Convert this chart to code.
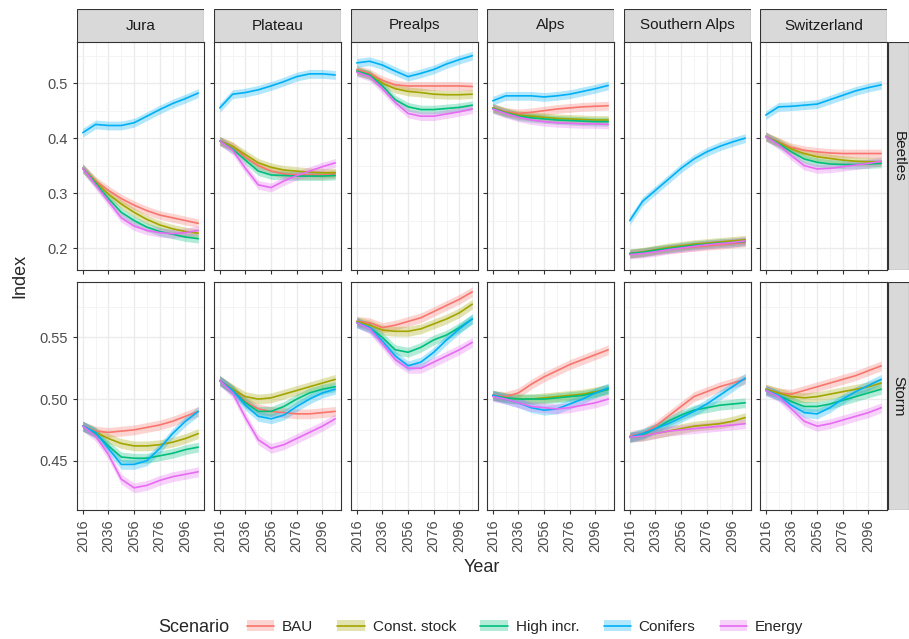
import numpy as np, pandas as pd, seaborn as sns, matplotlib
matplotlib.use("Agg")
import matplotlib.pyplot as plt
from matplotlib.patches import Patch, Rectangle
from matplotlib.lines import Line2D
from matplotlib.ticker import MultipleLocator

years = [2016, 2026, 2036, 2046, 2056, 2066, 2076, 2086, 2096, 2106]
regions = ["Jura", "Plateau", "Prealps", "Alps", "Southern Alps", "Switzerland"]
scenarios = ["BAU", "Const. stock", "High incr.", "Conifers", "Energy"]
indices = ["Beetles", "Storm"]
colors = ["#F8766D", "#A3A500", "#00BF7D", "#00B0F6", "#E76BF3"]

beetles = {
 "Jura": [[.345,.322,.305,.29,.278,.268,.26,.255,.25,.245],
          [.345,.32,.298,.28,.265,.252,.242,.235,.23,.227],
          [.345,.318,.29,.265,.25,.238,.23,.225,.22,.217],
          [.41,.425,.423,.423,.428,.44,.452,.463,.472,.482],
          [.345,.315,.285,.255,.24,.232,.228,.226,.228,.232]],
 "Plateau": [[.395,.385,.365,.35,.34,.335,.333,.333,.333,.335],
          [.395,.385,.37,.355,.347,.342,.34,.338,.337,.337],
          [.395,.38,.36,.34,.333,.332,.331,.331,.331,.332],
          [.455,.48,.483,.488,.495,.503,.512,.517,.517,.515],
          [.395,.378,.345,.315,.31,.322,.332,.34,.348,.355]],
 "Prealps": [[.525,.518,.505,.497,.495,.495,.495,.495,.495,.494],
          [.522,.515,.5,.49,.485,.483,.48,.479,.479,.48],
          [.522,.515,.495,.47,.457,.452,.452,.454,.456,.46],
          [.537,.54,.533,.522,.512,.518,.525,.535,.543,.55],
          [.52,.512,.49,.465,.445,.44,.44,.444,.448,.453]],
 "Alps": [[.455,.448,.445,.447,.45,.453,.455,.457,.458,.459],
          [.455,.447,.442,.44,.438,.436,.435,.434,.433,.433],
          [.454,.446,.44,.437,.435,.433,.432,.431,.43,.43],
          [.468,.477,.477,.477,.475,.477,.48,.485,.49,.496],
          [.453,.445,.438,.433,.43,.428,.427,.426,.426,.425]],
 "Southern Alps": [[.19,.192,.195,.198,.2,.202,.204,.206,.208,.21],
          [.19,.193,.197,.201,.204,.207,.209,.211,.213,.215],
          [.19,.192,.196,.199,.202,.205,.207,.209,.21,.212],
          [.25,.285,.305,.325,.345,.362,.375,.385,.393,.4],
          [.188,.19,.193,.197,.2,.203,.206,.208,.21,.213]],
 "Switzerland": [[.403,.393,.383,.378,.375,.373,.372,.372,.372,.372],
          [.403,.392,.38,.372,.366,.363,.36,.358,.357,.357],
          [.403,.39,.375,.362,.356,.353,.352,.352,.353,.354],
          [.442,.457,.458,.46,.462,.47,.478,.486,.492,.497],
          [.403,.388,.368,.35,.344,.345,.348,.351,.354,.358]],
}
storm = {
 "Jura": [[.478,.474,.473,.474,.475,.477,.479,.482,.486,.49],
          [.478,.473,.468,.464,.462,.462,.463,.465,.468,.472],
          [.478,.472,.462,.453,.452,.452,.454,.456,.459,.461],
          [.478,.473,.46,.447,.447,.45,.46,.472,.482,.49],
          [.478,.47,.455,.435,.428,.43,.434,.437,.439,.441]],
 "Plateau": [[.515,.508,.498,.492,.49,.489,.488,.488,.489,.49],
          [.515,.508,.502,.5,.501,.504,.507,.51,.513,.516],
          [.515,.507,.497,.49,.49,.494,.5,.505,.508,.51],
          [.515,.507,.495,.486,.484,.487,.494,.5,.505,.508],
          [.515,.505,.485,.467,.46,.463,.468,.473,.478,.484]],
 "Prealps": [[.563,.562,.558,.56,.563,.566,.571,.576,.581,.587],
          [.563,.56,.556,.555,.555,.557,.561,.565,.57,.577],
          [.562,.558,.55,.54,.538,.542,.548,.552,.558,.565],
          [.562,.558,.547,.535,.527,.53,.538,.548,.557,.565],
          [.562,.557,.545,.532,.525,.525,.53,.535,.54,.546]],
 "Alps": [[.503,.502,.505,.512,.518,.523,.528,.532,.536,.54],
          [.503,.501,.5,.5,.501,.502,.503,.504,.506,.508],
          [.503,.501,.5,.5,.5,.501,.502,.503,.505,.508],
          [.503,.5,.497,.493,.491,.492,.496,.5,.505,.509],
          [.502,.5,.497,.494,.493,.492,.493,.495,.497,.5]],
 "Southern Alps": [[.47,.472,.478,.486,.494,.502,.506,.51,.513,.516],
          [.469,.47,.472,.474,.476,.478,.479,.48,.482,.485],
          [.469,.471,.476,.482,.487,.491,.493,.495,.496,.497],
          [.469,.472,.476,.48,.485,.49,.496,.503,.51,.517],
          [.469,.47,.472,.474,.475,.476,.477,.478,.479,.48]],
 "Switzerland": [[.508,.505,.504,.507,.51,.513,.516,.519,.523,.527],
          [.508,.505,.502,.501,.502,.504,.506,.508,.51,.513],
          [.507,.503,.498,.494,.494,.496,.499,.502,.505,.508],
          [.507,.503,.495,.489,.488,.493,.5,.506,.511,.516],
          [.507,.502,.492,.482,.478,.48,.483,.486,.489,.493]],
}
band = {"Beetles": 0.008, "Storm": 0.004}
data = {"Beetles": beetles, "Storm": storm}
ylims = {"Beetles": (0.16, 0.575), "Storm": (0.41, 0.595)}
ymajor = {"Beetles": 0.1, "Storm": 0.05}
yfmt = {"Beetles": "{:.1f}", "Storm": "{:.2f}"}

sns.set_style("white")
plt.rcParams["font.family"] = ["Liberation Sans", "DejaVu Sans"]
fig = plt.figure(figsize=(9.09, 6.39), dpi=100)
W, H = 909, 639
pal = dict(zip(scenarios, colors))
xlefts = [77, 214, 351, 487, 624, 760]
pw = 127
rows = [(42, 270), (282, 510)]

for r, idx in enumerate(indices):
    top, bot = rows[r]
    for c, reg in enumerate(regions):
        ax = fig.add_axes([xlefts[c]/W, 1-bot/H, pw/W, (bot-top)/H])
        df = pd.DataFrame([(y, s, v) for s, vals in zip(scenarios, data[idx][reg]) for y, v in zip(years, vals)],
                          columns=["Year", "Scenario", "Index"])
        for s in scenarios:
            d = df[df.Scenario == s]
            ax.fill_between(d.Year, d.Index - band[idx], d.Index + band[idx], color=pal[s], alpha=0.3, lw=0)
        sns.lineplot(data=df, x="Year", y="Index", hue="Scenario", palette=pal, ax=ax, legend=False, lw=1.2)
        ax.set_xlim(2011.5, 2110.5)
        ax.set_ylim(*ylims[idx])
        ax.set_xticks([2016, 2036, 2056, 2076, 2096])
        ax.set_xticks([2026, 2046, 2066, 2086, 2106], minor=True)
        ax.yaxis.set_major_locator(MultipleLocator(ymajor[idx]))
        ax.yaxis.set_minor_locator(MultipleLocator(ymajor[idx]/2))
        ax.grid(True, which="major", color="#EBEBEB", lw=1.0)
        ax.grid(True, which="minor", color="#F2F2F2", lw=0.6)
        ax.set_axisbelow(True)
        for sp in ax.spines.values():
            sp.set_color("#333333"); sp.set_linewidth(0.8)
        ax.set_xlabel(""); ax.set_ylabel("")
        ax.tick_params(which="major", length=3, color="#333333", labelsize=10.5, labelcolor="#4D4D4D", left=True, bottom=True)
        ax.tick_params(which="minor", length=0)
        if r == 0:
            ax.set_xticklabels([])
            sax = fig.add_axes([xlefts[c]/W, 1-42/H, pw/W, 33/H])
            sax.add_patch(Rectangle((0, 0), 1, 1, fc="#D9D9D9", ec="#333333", lw=0.8, transform=sax.transAxes))
            sax.text(0.5, 0.5, reg, ha="center", va="center", fontsize=11, color="#1A1A1A")
            sax.axis("off")
        else:
            ax.set_xticklabels(["2016", "2036", "2056", "2076", "2096"], rotation=90)
        if c == 0:
            ax.set_yticklabels([yfmt[idx].format(t) for t in ax.get_yticks()])
        else:
            ax.set_yticklabels([])
    sax = fig.add_axes([888/W, 1-bot/H, 21/W, (bot-top)/H])
    sax.add_patch(Rectangle((0, 0), 1, 1, fc="#D9D9D9", ec="#333333", lw=0.8, transform=sax.transAxes))
    sax.text(0.5, 0.5, idx, ha="center", va="center", rotation=-90, fontsize=11, color="#1A1A1A")
    sax.axis("off")

fig.text(20/W, 1-276/H, "Index", rotation=90, ha="center", va="center", fontsize=13)
fig.text(482/W, 1-568/H, "Year", ha="center", va="center", fontsize=13)
handles = [(Patch(fc=col, alpha=0.3, lw=0), Line2D([], [], color=col, lw=1.2)) for col in colors]
leg = fig.legend(handles, scenarios, loc="center", bbox_to_anchor=(525/W, 1-627/H), ncol=5, frameon=False,
                 fontsize=11, handlelength=1.8, columnspacing=1.6, handletextpad=0.5, borderaxespad=0)
fig.text(158/W, 1-627/H, "Scenario", ha="left", va="center", fontsize=13)
fig.savefig("out.png", dpi=100)
